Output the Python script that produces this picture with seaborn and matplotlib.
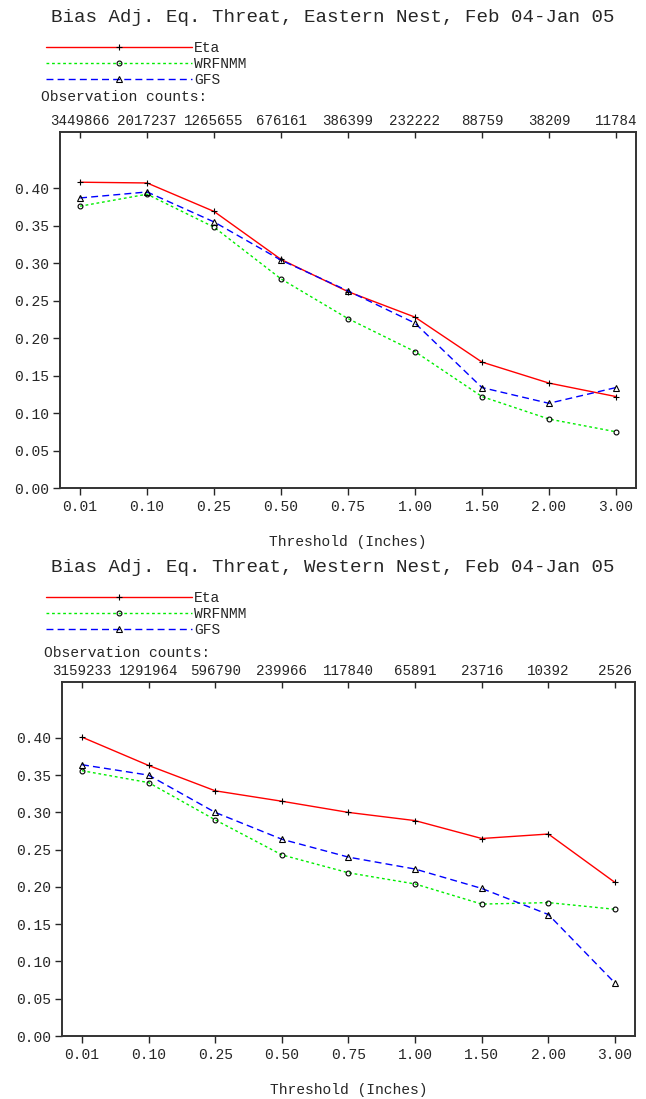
import numpy as np
import pandas as pd
import matplotlib
matplotlib.use("Agg")
import matplotlib.pyplot as plt
from matplotlib.lines import Line2D
import seaborn as sns

# ---------------- data ----------------
thresholds = ["0.01", "0.10", "0.25", "0.50", "0.75", "1.00", "1.50", "2.00", "3.00"]
models = ["Eta", "WRFNMM", "GFS"]

east_counts = [3449866, 2017237, 1265655, 676161, 386399, 232222, 88759, 38209, 11784]
west_counts = [3159233, 1291964, 596790, 239966, 117840, 65891, 23716, 10392, 2526]

east_eta = [0.408, 0.407, 0.369, 0.305, 0.262, 0.228, 0.168, 0.140, 0.122]
east_wrfnmm = [0.376, 0.392, 0.348, 0.279, 0.226, 0.182, 0.122, 0.092, 0.075]
east_gfs = [0.387, 0.395, 0.355, 0.304, 0.263, 0.220, 0.134, 0.113, 0.134]

west_eta = [0.401, 0.363, 0.329, 0.315, 0.300, 0.289, 0.265, 0.271, 0.206]
west_wrfnmm = [0.356, 0.340, 0.290, 0.243, 0.219, 0.204, 0.177, 0.179, 0.170]
west_gfs = [0.364, 0.350, 0.300, 0.264, 0.240, 0.224, 0.198, 0.163, 0.071]

yticks = [0.00, 0.05, 0.10, 0.15, 0.20, 0.25, 0.30, 0.35, 0.40]

# ---------------- style ----------------
sns.set_style("ticks")
FONT = ["Liberation Mono", "DejaVu Sans Mono"]
plt.rcParams["font.family"] = FONT
TXT = "#262626"

styles = {
    "Eta": dict(color="#ff0000", dashes=None, marker="+", ms=5, mfc="none"),
    "WRFNMM": dict(color="#00ee00", dashes=(2, 2), marker="o", ms=3.5, mfc="none"),
    "GFS": dict(color="#0000ff", dashes=(5, 3), marker="^", ms=3.8, mfc="none"),
}

W, H = 646, 1099
fig = plt.figure(figsize=(W / 100, H / 100), dpi=100)


def fx(px):
    return px / W


def fy(py):
    return 1 - py / H


def panel(box, series, counts, title, title_y, leg_y, obs_x, obs_y):
    x0, y0, x1, y1 = box
    ax = fig.add_axes([fx(x0), fy(y1), fx(x1 - x0), (y1 - y0) / H])
    df = pd.DataFrame({
        "Threshold": thresholds * 3,
        "Value": series[0] + series[1] + series[2],
        "Model": sum([[m] * len(thresholds) for m in models], []),
    })
    handles = []
    for m in models:
        st = styles[m]
        sub = df[df["Model"] == m]
        sns.lineplot(data=sub, x="Threshold", y="Value", ax=ax, sort=False,
                     color=st["color"], lw=1.0, marker=st["marker"], ms=st["ms"],
                     mec="black", mfc=st["mfc"], mew=0.8, legend=False)
        ln = ax.get_lines()[-1]
        h = Line2D([], [], color=st["color"], lw=1.0,
                   marker=st["marker"], ms=st["ms"], mec="black",
                   mfc=st["mfc"], mew=0.8, label=m)
        if st["dashes"] is not None:
            ln.set_dashes(st["dashes"])
            h.set_dashes(st["dashes"])
        handles.append(h)
    ax.set_xlim(-0.3, 8.3)
    ax.set_ylim(0, 0.475)
    ax.set_yticks(yticks)
    ax.set_yticklabels([f"{v:.2f}" for v in yticks])
    ax.set_xticks(range(len(thresholds)))
    ax.set_xticklabels(thresholds)
    ax.tick_params(axis="both", direction="out", length=5, width=1.0,
                   labelsize=10.5, colors=TXT, pad=2.5)
    ax.tick_params(axis="x", pad=3.5, top=False)
    ax.set_xlabel("Threshold (Inches)", fontsize=10.5, color=TXT, labelpad=15)
    ax.set_ylabel("")
    for s in ax.spines.values():
        s.set_visible(True)
        s.set_color("#333333")
        s.set_linewidth(1.4)

    # observation counts on the top axis
    ax2 = ax.twiny()
    ax2.set_xlim(ax.get_xlim())
    ax2.set_xticks(range(len(thresholds)))
    ax2.set_xticklabels([str(c) for c in counts])
    ax2.xaxis.set_tick_params(which="major", direction="in", length=4, width=1.0,
                              labelsize=10.2, colors=TXT, pad=3,
                              top=True, labeltop=True, bottom=False, labelbottom=False)
    for s in ax2.spines.values():
        s.set_visible(False)

    fig.text(fx(333), fy(title_y), title, ha="center", va="center",
             fontsize=13.8, color=TXT)
    fig.text(fx(obs_x), fy(obs_y), "Observation counts:", ha="left", va="center",
             fontsize=10.5, color=TXT)
    fig.legend(handles=handles, loc="upper left",
               bbox_to_anchor=(fx(46), fy(leg_y)), frameon=False,
               fontsize=10.5, handlelength=10, handletextpad=0.15,
               labelspacing=0.15, borderpad=0, borderaxespad=0,
               labelcolor=TXT)
    return ax


panel((60, 132, 636, 488), [east_eta, east_wrfnmm, east_gfs], east_counts,
      "Bias Adj. Eq. Threat, Eastern Nest, Feb 04-Jan 05", 17, 41, 41, 97)
panel((62, 682, 635, 1036), [west_eta, west_wrfnmm, west_gfs], west_counts,
      "Bias Adj. Eq. Threat, Western Nest, Feb 04-Jan 05", 568, 591, 44, 653)

fig.savefig("out.png", dpi=100, facecolor="white")
